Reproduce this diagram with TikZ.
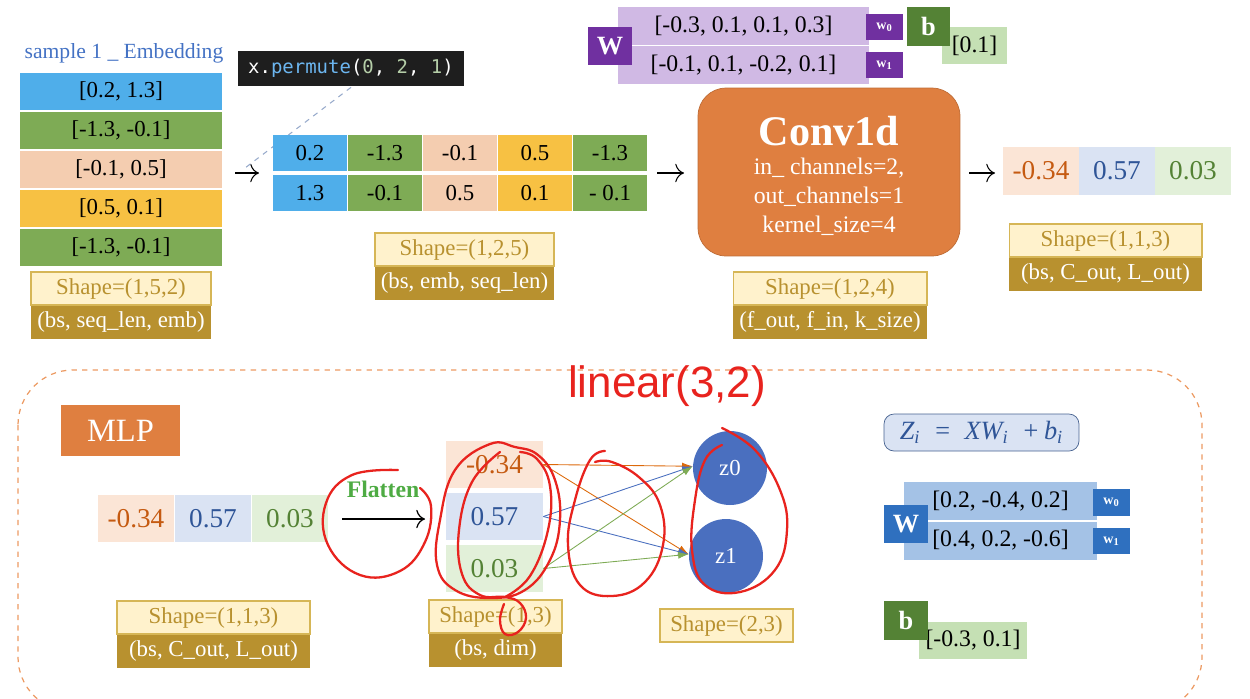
\documentclass[tikz,border=0pt]{standalone}
\usepackage{fontspec}
\setmainfont{Liberation Serif}
\setmonofont{DejaVu Sans Mono}
\newfontfamily\handfont{Liberation Sans}
\usetikzlibrary{arrows.meta,positioning}

\definecolor{cellblue}{HTML}{4FAEEA}
\definecolor{cellgreen}{HTML}{7EAB55}
\definecolor{cellpeach}{HTML}{F4CDB0}
\definecolor{cellyellow}{HTML}{F7C143}
\definecolor{shapelight}{HTML}{FFF2CC}
\definecolor{shapeedge}{HTML}{D6B656}
\definecolor{shapedark}{HTML}{B8912F}
\definecolor{purpdark}{HTML}{7030A0}
\definecolor{purplight}{HTML}{D0B9E4}
\definecolor{bgreen}{HTML}{548235}
\definecolor{blight}{HTML}{C5E0B4}
\definecolor{convorange}{HTML}{DF7F40}
\definecolor{outpeach}{HTML}{FBE5D6}
\definecolor{outpeachtxt}{HTML}{C55A11}
\definecolor{outblue}{HTML}{DAE3F3}
\definecolor{outbluetxt}{HTML}{2F5597}
\definecolor{outgreen}{HTML}{E2F0D9}
\definecolor{outgreentxt}{HTML}{548235}
\definecolor{titleblue}{HTML}{4472C4}
\definecolor{nodeblue}{HTML}{4A6FBF}
\definecolor{wblue}{HTML}{2F70BF}
\definecolor{wlight}{HTML}{A4C2E6}
\definecolor{codebg}{HTML}{1E1E1E}
\definecolor{codeblue}{HTML}{6CB6F0}
\definecolor{codegreen}{HTML}{B5CEA8}
\definecolor{dashorange}{HTML}{EC9A62}
\definecolor{flatgreen}{HTML}{4EAB43}
\definecolor{redink}{HTML}{E8231E}

\tikzset{
  cell/.style={inner sep=0pt, minimum width=1.48cm, minimum height=0.72cm, font=\fontsize{13}{15}\selectfont},
  embrow/.style={cell, minimum width=4.04cm, minimum height=0.74cm},
  valcell/.style={inner sep=0pt, minimum width=1.52cm, minimum height=0.94cm, font=\fontsize{15.5}{18}\selectfont},
  shapetop/.style={fill=shapelight, draw=shapeedge, line width=0.6pt, text=shapedark, inner sep=0pt, minimum height=0.66cm, font=\fontsize{13}{15}\selectfont},
  shapebot/.style={fill=shapedark, text=white, inner sep=0pt, minimum height=0.66cm, font=\fontsize{13}{15}\selectfont},
  wrow/.style={inner sep=0pt, minimum height=0.76cm, font=\fontsize{13.5}{15}\selectfont},
  tagbox/.style={text=white, inner sep=0pt, font=\bfseries\fontsize{8}{9}\selectfont, minimum width=0.74cm, minimum height=0.53cm},
  bigtag/.style={text=white, inner sep=0pt, font=\bfseries\fontsize{15}{17}\selectfont, minimum width=0.88cm, minimum height=0.77cm},
  smallarrow/.style={-{To[length=5pt]}, line width=0.6pt},
  nnarrow/.style={-{Latex[length=6pt,width=4pt]}, line width=0.5pt},
  ink/.style={redink, line width=1.3pt, line cap=round, line join=round}
}

\begin{document}
\begin{tikzpicture}[x=0.02cm, y=-0.02cm]
\clip (0,0) rectangle (1250,698);
\useasboundingbox (0,0) rectangle (1250,698);

% embedding input
\node[text=titleblue, font=\fontsize{12.3}{15}\selectfont] (embtitle) at (124,53) {sample 1 \_ Embedding};
\foreach \i/\col/\val in {1/cellblue/{[0.2, 1.3]}, 2/cellgreen/{[-1.3, -0.1]}, 3/cellpeach/{[-0.1, 0.5]}, 4/cellyellow/{[0.5, 0.1]}, 5/cellgreen/{[-1.3, -0.1]}}
  \node[embrow, fill=\col] (emb\i) at (121,52+39*\i) {\val};
\node[shapetop, minimum width=3.6cm] (shape1) at (121,288.5) {Shape=(1,5,2)};
\node[shapebot, minimum width=3.6cm, below=0pt of shape1] (dims1) {(bs, seq\_len, emb)};

% permute
\node[fill=codebg, minimum width=4.52cm, minimum height=0.7cm, font=\ttfamily\fontsize{10.8}{12}\selectfont] (permute) at (351,68.5)
  {\textcolor{white}{x.}\textcolor{codeblue}{permute}\textcolor{white}{(}\textcolor{codegreen}{0}\textcolor{white}{,} \textcolor{codegreen}{2}\textcolor{white}{,} \textcolor{codegreen}{1}\textcolor{white}{)}};
\coordinate (arr1s) at (235,173);
\coordinate (arr1e) at (259,173);
\coordinate (permute-end) at (245,168);
\draw[smallarrow] (arr1s) -- (arr1e);
\draw[outbluetxt!50, dashed, line width=0.6pt] (permute.south) ++(0,1) -- (permute-end);

\foreach \j/\col/\a/\b in {1/cellblue/0.2/1.3, 2/cellgreen/-1.3/-0.1, 3/cellpeach/-0.1/0.5, 4/cellyellow/0.5/0.1, 5/cellgreen/-1.3/- 0.1} {
  \node[cell, fill=\col] (top\j) at (235+75*\j,153) {\a};
  \node[cell, fill=\col] (bot\j) at (235+75*\j,193) {\b};
}
\node[shapetop, minimum width=3.58cm] (shape2) at (464.5,249.5) {Shape=(1,2,5)};
\node[shapebot, minimum width=3.58cm, below=0pt of shape2] (dims2) {(bs, emb, seq\_len)};

% conv weights
\node[wrow, fill=purplight, minimum width=5.02cm] (cw0) at (743.5,26) {[-0.3, 0.1, 0.1, 0.3]};
\node[wrow, fill=purplight, minimum width=5.02cm] (cw1) at (743.5,65) {[-0.1, 0.1, -0.2, 0.1]};
\node[bigtag, fill=purpdark] (cW) at (610,46) {W};
\node[tagbox, fill=purpdark] (cw0tag) at (884.5,27) {w\textsubscript{0}};
\node[tagbox, fill=purpdark] (cw1tag) at (884.5,65) {w\textsubscript{1}};
\node[wrow, fill=blight, minimum width=1.3cm, minimum height=0.74cm] (cbval) at (974.5,45.5) {[0.1]};
\node[bigtag, fill=bgreen, minimum width=0.86cm, minimum height=0.78cm] (cb) at (928.5,26) {b};

% conv1d
\coordinate (arr2s) at (657,173);
\coordinate (arr2e) at (684,173);
\draw[smallarrow] (arr2s) -- (arr2e);
\node[fill=convorange, draw=convorange!85!black, rounded corners=0.56cm, minimum width=5.24cm, minimum height=3.36cm] (conv) at (829,172) {};
\node[text=white, font=\bfseries\fontsize{24}{28}\selectfont] (convname) at (829,131) {Conv1d};
\node[text=white, font=\fontsize{13.5}{15}\selectfont] (convin) at (829,168) {in\_ channels=2,};
\node[text=white, font=\fontsize{13.5}{15}\selectfont] (convout) at (829,197) {out\_channels=1};
\node[text=white, font=\fontsize{13.5}{15}\selectfont] (convk) at (829,226) {kernel\_size=4};
\node[shapetop, minimum width=3.88cm] (shape3) at (830,288.5) {Shape=(1,2,4)};
\node[shapebot, minimum width=3.88cm, below=0pt of shape3] (dims3) {(f\_out, f\_in, k\_size)};

% conv output
\coordinate (arr3s) at (969,173);
\coordinate (arr3e) at (995,173);
\draw[smallarrow] (arr3s) -- (arr3e);
\foreach \j/\bg/\fg/\v in {1/outpeach/outpeachtxt/-0.34, 2/outblue/outbluetxt/0.57, 3/outgreen/outgreentxt/0.03}
  \node[valcell, fill=\bg, text=\fg, minimum height=0.96cm] (out\j) at (965+76*\j,171) {\v};
\node[shapetop, minimum width=3.86cm] (shape4) at (1105.5,240.5) {Shape=(1,1,3)};
\node[shapebot, minimum width=3.86cm, below=0pt of shape4] (dims4) {(bs, C\_out, L\_out)};

% mlp part
\draw[dashorange, dashed, line width=0.7pt, rounded corners=1.1cm] (18,370) rectangle (1202,712);
\node[fill=convorange, text=white, minimum width=2.38cm, minimum height=1.02cm, font=\fontsize{18.5}{20}\selectfont] (mlp) at (120.5,430.5) {MLP};
\foreach \j/\bg/\fg/\v in {1/outpeach/outpeachtxt/-0.34, 2/outblue/outbluetxt/0.57, 3/outgreen/outgreentxt/0.03}
  \node[valcell, fill=\bg, text=\fg] (row\j) at (59+77*\j,518.5) {\v};
\node[shapetop, minimum width=3.86cm] (shape5) at (213.5,617.5) {Shape=(1,1,3)};
\node[shapebot, minimum width=3.86cm, below=0pt of shape5] (dims5) {(bs, C\_out, L\_out)};

\node[text=flatgreen, font=\bfseries\fontsize{13.5}{15}\selectfont] (flatten) at (383,489) {Flatten};
\coordinate (flats) at (342,519);
\coordinate (flate) at (425,519);
\draw[smallarrow, line width=0.7pt] (flats) -- (flate);

\foreach \k/\bg/\fg/\v in {1/outpeach/outpeachtxt/-0.34, 2/outblue/outbluetxt/0.57, 3/outgreen/outgreentxt/0.03}
  \node[valcell, fill=\bg, text=\fg, minimum width=1.94cm] (col\k) at (494.5,412.5+52*\k) {\v};
\node[shapetop, minimum width=2.66cm] (shape6) at (495.5,616.5) {Shape=(1,3)};
\node[shapebot, minimum width=2.66cm, below=0pt of shape6] (dims6) {(bs, dim)};

\node[circle, fill=nodeblue, text=white, minimum size=1.48cm, inner sep=0pt, font=\fontsize{13}{15}\selectfont] (z0) at (730,468) {z0};
\node[circle, fill=nodeblue, text=white, minimum size=1.48cm, inner sep=0pt, font=\fontsize{13}{15}\selectfont] (z1) at (726,556) {z1};
\foreach \k/\c in {1/outpeachtxt!60!orange, 2/nodeblue, 3/cellgreen} {
  \draw[nnarrow, \c] (col\k.east) -- ([yshift=1pt]z0.west);
  \draw[nnarrow, \c] (col\k.east) -- ([yshift=1pt]z1.west);
}
\node[shapetop, minimum width=2.66cm] (shape7) at (726.5,625.5) {Shape=(2,3)};

% linear weights
\node[fill=outblue, draw=outbluetxt!70!gray, rounded corners=0.2cm, minimum width=3.9cm, minimum height=0.74cm, text=outbluetxt, font=\itshape\fontsize{15}{17}\selectfont] (formula) at (981.5,432.5)
  {Z\textsubscript{i}\ \ =\ \ XW\textsubscript{i}\ \ +\,b\textsubscript{i}};
\node[wrow, fill=wlight, minimum width=3.86cm] (lw0) at (1000.5,501) {[0.2, -0.4, 0.2]};
\node[wrow, fill=wlight, minimum width=3.86cm] (lw1) at (1000.5,540.5) {[0.4, 0.2, -0.6]};
\node[bigtag, fill=wblue] (lW) at (906,524) {W};
\node[tagbox, fill=wblue] (lw0tag) at (1111.5,502.5) {w\textsubscript{0}};
\node[tagbox, fill=wblue] (lw1tag) at (1111.5,541) {w\textsubscript{1}};
\node[wrow, fill=blight, minimum width=2.16cm, minimum height=0.74cm] (lbval) at (973,640.5) {[-0.3, 0.1]};
\node[bigtag, fill=bgreen, minimum height=0.78cm] (lb) at (906,620.5) {b};

% red notes
\node[text=redink, font=\handfont\fontsize{25}{28}\selectfont] (linear) at (667,386) {linear(3,2)};
\draw[ink] plot[smooth, tension=0.7] coordinates {(398,470) (352,475) (326,503) (328,545) (360,575) (400,571) (425,542) (431,506) (420,488)};
\draw[ink] plot[smooth cycle, tension=0.7] coordinates {(490,444) (455,470) (440,520) (437,565) (455,590) (490,598) (525,590) (550,560) (560,520) (555,480) (538,455) (515,447)};
\draw[ink] plot[smooth, tension=0.7] coordinates {(500,452) (472,482) (459,530) (462,574) (480,595) (505,597) (520,603) (526,618) (518,632) (505,634) (500,620) (504,604)};
\draw[ink] plot[smooth, tension=0.7] coordinates {(505,597) (530,576) (548,530) (550,486) (537,459) (520,452)};
\draw[ink] plot[smooth, tension=0.7] coordinates {(605,451) (590,460) (575,500) (568,545) (580,585) (612,596) (645,582) (663,545) (660,505) (640,478) (612,462) (595,462)};
\draw[ink] plot[smooth, tension=0.7] coordinates {(722,428) (755,450) (780,490) (787,530) (775,570) (740,592) (705,585) (692,550) (695,500) (705,460) (722,445)};
\end{tikzpicture}
\end{document}
